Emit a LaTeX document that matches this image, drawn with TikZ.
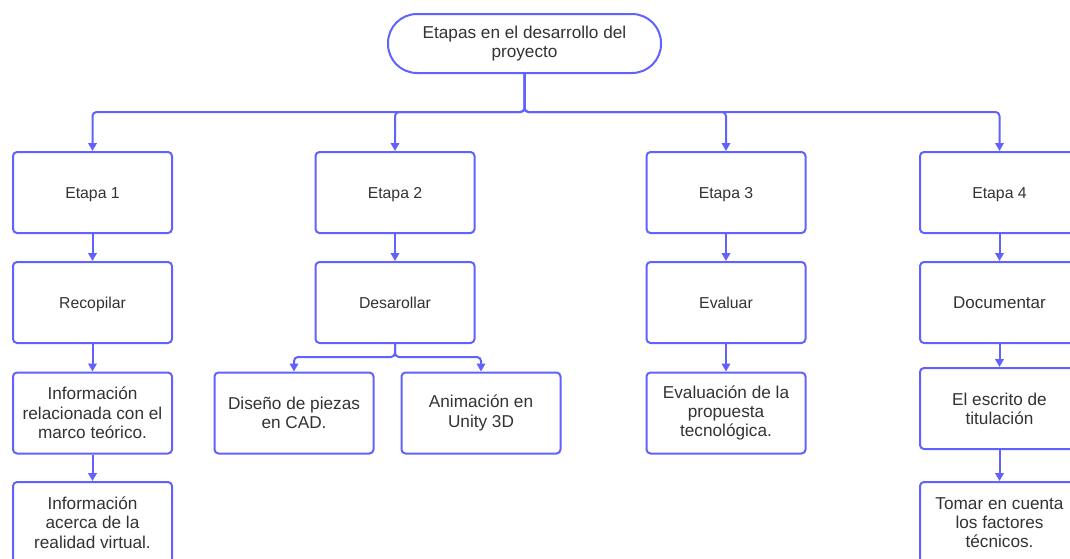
\documentclass[tikz,border=0pt]{standalone}
\usepackage{fontspec}
\setmainfont{Liberation Sans}
\usetikzlibrary{arrows.meta}
\definecolor{edge}{RGB}{97,97,255}
\definecolor{ink}{RGB}{51,51,51}
\tikzset{
  stepbox/.style={draw=edge, line width=2pt, rounded corners=4pt, fill=white,
    minimum width=159pt, minimum height=81pt, inner sep=0pt, align=center,
    text=ink, font=\fontsize{17.2}{19.3}\selectfont},
  % one-line labels: caps centred in the box
  shortbox/.style={stepbox, font=\fontsize{15.8}{19}\selectfont,
    text height=11.3pt, text depth=0pt},
  titlebox/.style={stepbox, minimum width=273pt, minimum height=59pt, rounded corners=29pt},
  link/.style={draw=edge, line width=2pt, rounded corners=4pt,
    -{Triangle[length=8pt,width=8.5pt]}},
}
\begin{document}
\begin{tikzpicture}[x=1pt,y=-1pt]
\useasboundingbox (0,0) rectangle (1070,558);
\clip (0,0) rectangle (1070,558);

% title
\node[titlebox] (top) at (524.5,43.5) {Etapas en el desarrollo del\\proyecto};

% stages
\node[shortbox] (e1) at (92.5,192.5) {Etapa 1};
\node[shortbox] (e2) at (395,192.5) {Etapa 2};
\node[shortbox] (e3) at (726,192.5) {Etapa 3};
\node[shortbox] (e4) at (999.5,192.5) {Etapa 4};

% actions
\node[shortbox] (a1) at (92.5,302.5) {Recopilar};
\node[shortbox] (a2) at (395,302.5) {Desarollar};
\node[shortbox] (a3) at (726,302.5) {Evaluar};
\node[shortbox, font=\fontsize{17}{19}\selectfont, text height=12.2pt] (a4) at (999.5,302.5) {Documentar};

% details
\node[stepbox] (b1) at (92.5,413) {Información\\relacionada con el\\marco teórico.};
\node[stepbox] (b2) at (294,413) {Diseño de piezas\\en CAD.};
\node[stepbox] (b3) at (481,413) {Animación en\\Unity 3D};
\node[stepbox] (b4) at (726,413) {Evaluación de la\\propuesta\\tecnológica.};
\node[stepbox] (b5) at (999.5,408.5) {El escrito de\\titulación};

\node[stepbox] (c1) at (92.5,522.5) {Información\\acerca de la\\realidad virtual.};
\node[stepbox] (c5) at (999.5,522.5) {Tomar en cuenta\\los factores\\técnicos.};

% distribution lines
\coordinate (bus) at (0,112);
\coordinate (split) at (0,357);
\foreach \s in {e1,e2,e3,e4}
  \draw[link] (top.south) -- (top.south |- bus) -| (\s.north);
\draw[link] (a2.south) -- (a2.south |- split) -| (b2.north);
\draw[link] (a2.south) -- (a2.south |- split) -| (b3.north);

% straight links
\draw[link] (e1) -- (a1);
\draw[link] (a1) -- (b1);
\draw[link] (b1) -- (c1);
\draw[link] (e2) -- (a2);
\draw[link] (e3) -- (a3);
\draw[link] (a3) -- (b4);
\draw[link] (e4) -- (a4);
\draw[link] (a4) -- (b5);
\draw[link] (b5) -- (c5);
\end{tikzpicture}
\end{document}
